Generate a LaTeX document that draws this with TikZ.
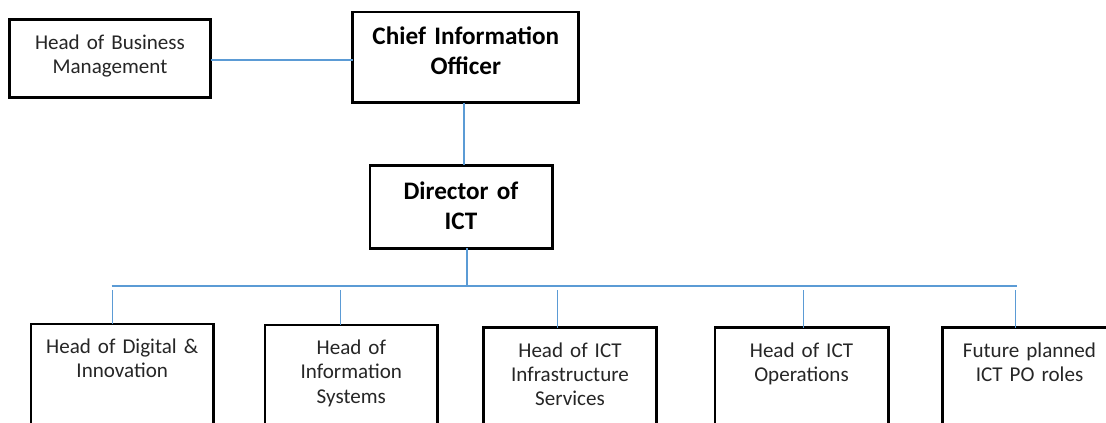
\documentclass[tikz,border=0pt]{standalone}
\usepackage{fontspec}
\setmainfont{Carlito}[WordSpace={1,0,0}]
\definecolor{linkblue}{HTML}{5B9BD5}
\begin{document}
\begin{tikzpicture}[x=0.75pt,y=-0.75pt,
  box/.style={draw=black, line width=2pt, inner sep=0pt, outer sep=0pt},
  link/.style={draw=linkblue, line width=1pt},
  label/.style={font=\fontsize{15.8}{18.3}\selectfont, text=black!85, align=center,
                text width=180pt, anchor=base, inner sep=0pt},
  title/.style={font=\fontsize{18.9}{22.6}\selectfont\bfseries, text=black, align=center,
                text width=180pt, anchor=base, inner sep=0pt}]
\useasboundingbox (0,0) rectangle (1106,422);
\fill[white] (0,0) rectangle (1106,422);
\clip (0,0) rectangle (1106,422);

% top level
\node[box, minimum width=151pt, minimum height=58.5pt] (hbm) at (110,58.3) {};
\node[label] (hbm-t) at (110,49.3) {Head of Business\\Management};
\node[box, minimum width=169.5pt, minimum height=68pt] (cio) at (465.7,57.35) {};
\node[title] (cio-t) at (465.8,44.3) {Chief Information\\Officer};
\node[box, minimum width=137pt, minimum height=62.25pt] (dir) at (461.35,206.8) {};
\node[title] (dir-t) at (461,199) {Director of\\ICT};

% reporting units (run past the lower edge)
\node[box, anchor=north, minimum width=136.7pt, minimum height=90pt] (b1) at (122.2,324) {};
\node[label] (b1-t) at (122.2,353.5) {Head of Digital \&\\Innovation};
\node[box, anchor=north, minimum width=129.5pt, minimum height=90pt] (b2) at (351.3,325) {};
\node[label] (b2-t) at (351.3,354.5) {Head of\\Information\\Systems};
\node[box, anchor=north, minimum width=129.75pt, minimum height=90pt] (b3) at (569.8,327.7) {};
\node[label] (b3-t) at (570,357) {Head of ICT\\Infrastructure\\Services};
\node[box, anchor=north, minimum width=130pt, minimum height=90pt] (b4) at (801.7,327.7) {};
\node[label] (b4-t) at (801.5,357) {Head of ICT\\Operations};
\node[box, anchor=north, minimum width=130pt, minimum height=90pt] (b5) at (1029.4,327.7) {};
\node[label] (b5-t) at (1029.5,357) {Future planned\\ICT PO roles};

% connectors
\coordinate (busJ) at (467,286);
\coordinate (busL) at (111.7,286);
\coordinate (busR) at (1016.7,286);
\coordinate (d1) at (112.7,290);
\coordinate (d2) at (340.7,290);
\coordinate (d3) at (557.3,290);
\coordinate (d4) at (803.3,290);
\coordinate (d5) at (1015.7,290);

\draw[link] ([yshift=-1.3pt]hbm.east) -- ([yshift=-1.3pt]hbm.east -| cio.west);
\draw[link] ([xshift=-1.2pt]cio.south) -- ([xshift=-1.2pt]cio.south |- dir.north);
\draw[link] (dir.south -| busJ) -- (busJ);
\draw[link] (busL) -- (busR);
\draw[link] (d1) -- (d1 |- b1.north);
\draw[link] (d2) -- (d2 |- b2.north);
\draw[link] (d3) -- (d3 |- b3.north);
\draw[link] (d4) -- (d4 |- b4.north);
\draw[link] (d5) -- (d5 |- b5.north);
\end{tikzpicture}
\end{document}
